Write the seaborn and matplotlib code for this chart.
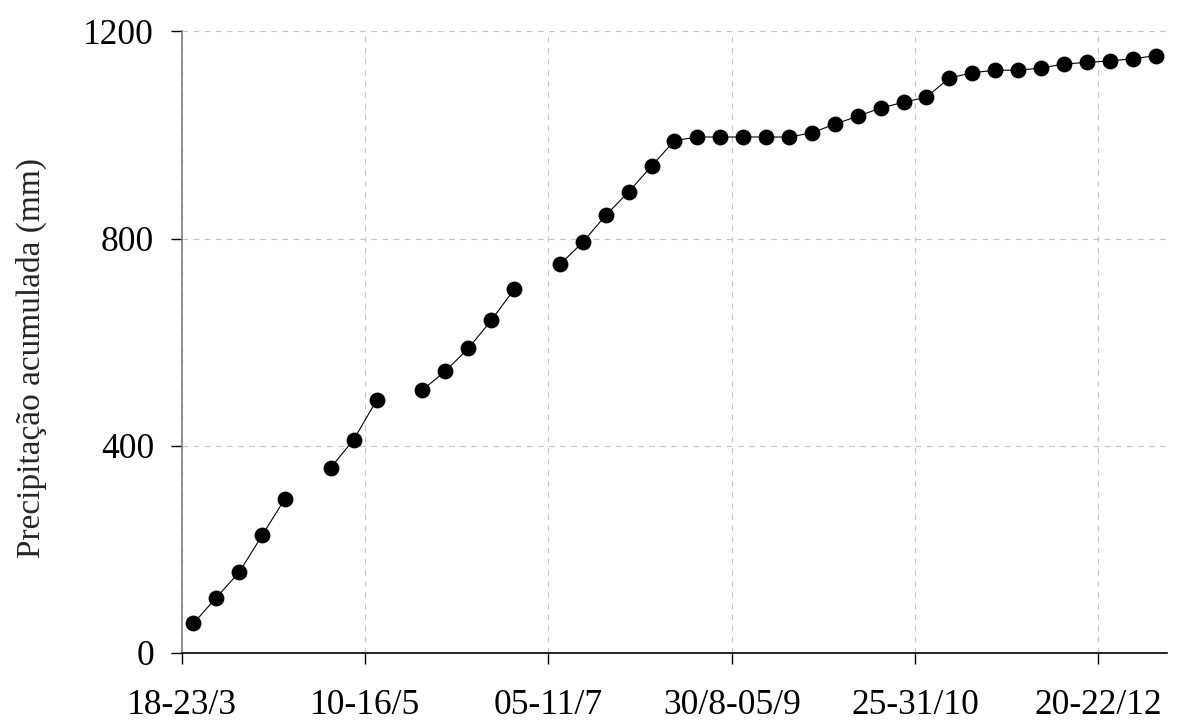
import numpy as np
import pandas as pd
import matplotlib
matplotlib.use("Agg")
import matplotlib.pyplot as plt
import seaborn as sns

# ---- data ----
tick_labels = ["18-23/3", "10-16/5", "05-11/7", "30/8-05/9", "25-31/10", "20-22/12"]
precip_acum = [
    57, 107, 156, 227, 298, np.nan, 358, 412, 488, np.nan,
    508, 544, 588, 642, 702, np.nan, 750, 793, 845, 890,
    940, 989, 996, 996, 996, 996, 996, 1004, 1021, 1036,
    1052, 1063, 1073, 1110, 1120, 1125, 1125, 1129, 1137, 1140,
    1143, 1147, 1153,
]
ylabel = "Precipitação acumulada (mm)"

n = len(precip_acum)
df = pd.DataFrame({"periodo": np.arange(n) + 0.5, "precip": precip_acum})
# contiguous segments (gaps where value is missing)
df["seg"] = df["precip"].isna().cumsum()
df = df.dropna()

sns.set_theme(style="white")
plt.rcParams["font.family"] = ["Liberation Serif", "DejaVu Serif"]

fig = plt.figure(figsize=(11.77, 7.22), dpi=100)
ax = fig.add_axes([0.1546, 0.0956, 0.9915 - 0.1546, 0.9566 - 0.0956])

sns.lineplot(data=df, x="periodo", y="precip", units="seg", estimator=None,
             color="black", linewidth=0.8, ax=ax, legend=False)
sns.scatterplot(data=df, x="periodo", y="precip", color="black", s=130,
                edgecolor="black", linewidth=0, ax=ax, legend=False, zorder=3)

ax.set_xlim(0, n)
ax.set_ylim(0, 1200)
ax.set_xticks(np.arange(len(tick_labels)) * 8)
ax.set_xticklabels(tick_labels)
ax.set_yticks([0, 400, 800, 1200])
ax.set_yticklabels(["0", "400", "800", "1200"])
ax.set_xlabel("")
ax.set_ylabel(ylabel, fontsize=24)
ax.yaxis.set_label_coords(-0.137, 0.475)

ax.grid(True, color="#c4c4c4", linestyle=(0, (5, 5)), linewidth=0.8)
ax.set_axisbelow(True)

for s in ["top", "right"]:
    ax.spines[s].set_visible(False)
ax.spines["left"].set_color("#808080")
ax.spines["left"].set_linewidth(1.2)
ax.spines["bottom"].set_color("black")
ax.spines["bottom"].set_linewidth(1.2)

ax.tick_params(axis="both", which="major", direction="out", length=8, width=1.0,
               color="black", labelsize=25.5, labelcolor="black", bottom=True, left=True)
ax.tick_params(axis="x", pad=18)
ax.tick_params(axis="y", pad=12)

fig.savefig("out.png", dpi=100)
